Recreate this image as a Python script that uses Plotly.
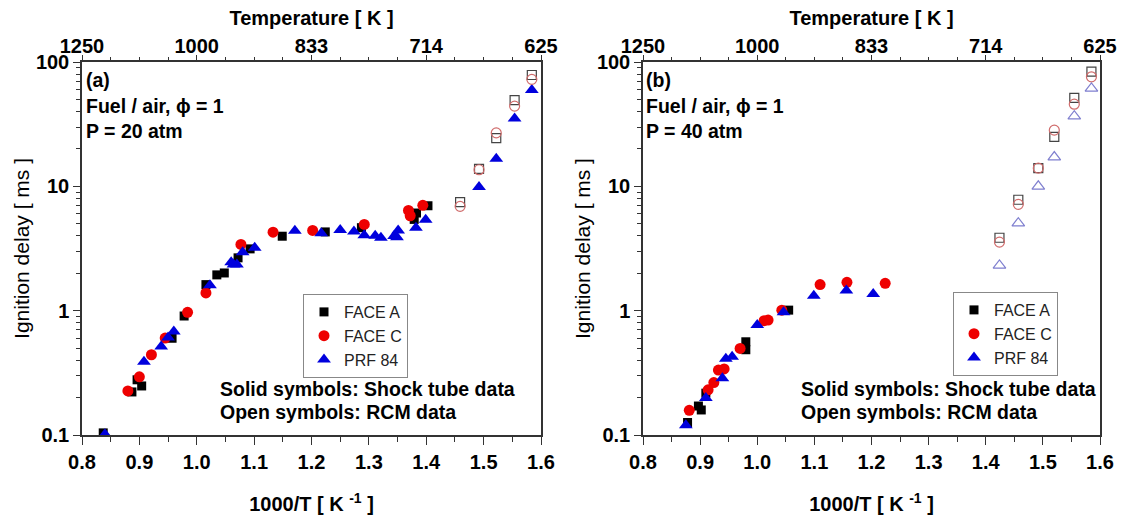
import plotly.graph_objects as go

# ---------------- data ----------------
# Panel (a): P = 20 atm, shock tube (solid)
a_faceA_x = [0.837, 0.887, 0.896, 0.904, 0.957, 0.978, 1.016, 1.035, 1.048, 1.072, 1.093, 1.149, 1.224, 1.287, 1.379, 1.383, 1.403]
a_faceA_y = [0.104, 0.222, 0.278, 0.248, 0.60, 0.906, 1.62, 1.94, 2.01, 2.66, 3.14, 3.97, 4.3, 4.65, 5.42, 6.1, 6.98]
a_faceC_x = [0.880, 0.900, 0.921, 0.945, 0.984, 1.016, 1.077, 1.133, 1.202, 1.292, 1.369, 1.372, 1.394]
a_faceC_y = [0.226, 0.294, 0.442, 0.602, 0.969, 1.39, 3.41, 4.28, 4.42, 4.94, 6.4, 5.8, 7.03]
a_prf_x = [0.840, 0.908, 0.938, 0.950, 0.960, 1.023, 1.060, 1.064, 1.070, 1.080, 1.101, 1.171, 1.217, 1.250,
           1.274, 1.292, 1.311, 1.321, 1.344, 1.349, 1.351, 1.382, 1.399, 1.492, 1.522, 1.554, 1.584]
a_prf_y = [0.1014, 0.388, 0.515, 0.607, 0.681, 1.6, 2.45, 2.35, 2.35, 2.95, 3.2, 4.39, 4.2, 4.45,
           4.33, 4.05, 4.0, 3.86, 3.99, 3.9, 4.42, 4.64, 5.39, 9.9, 16.7, 35.2, 59.5]
# Panel (a): RCM (open)
a_rcm_x = [1.459, 1.492, 1.522, 1.554, 1.584]
a_rcm_faceA_y = [7.47, 13.8, 24.4, 49.4, 78.6]
a_rcm_faceC_y = [6.9, 13.6, 26.9, 44.2, 72.5]

# Panel (b): P = 40 atm, shock tube (solid)
b_faceA_x = [0.878, 0.897, 0.902, 0.910, 0.980, 0.980, 1.055]
b_faceA_y = [0.126, 0.171, 0.159, 0.217, 0.562, 0.485, 1.01]
b_faceC_x = [0.881, 0.914, 0.924, 0.932, 0.942, 0.970, 1.012, 1.019, 1.043, 1.110, 1.157, 1.224]
b_faceC_y = [0.158, 0.231, 0.264, 0.333, 0.34, 0.497, 0.83, 0.84, 1.01, 1.62, 1.69, 1.66]
b_prf_x = [0.875, 0.910, 0.939, 0.945, 0.956, 1.000, 1.046, 1.099, 1.156, 1.203]
b_prf_y = [0.120, 0.198, 0.286, 0.41, 0.426, 0.767, 0.969, 1.32, 1.45, 1.36]
# Panel (b): RCM (open)
b_rcm_x = [1.424, 1.457, 1.492, 1.520, 1.555, 1.585]
b_rcm_faceA_y = [3.86, 7.8, 14.0, 25.0, 51.5, 83.6]
b_rcm_faceC_y = [3.56, 7.16, 14.0, 28.3, 45.8, 76.0]
b_rcm_prf_y = [2.31, 5.06, 10.0, 17.2, 36.7, 61.3]

# axis ticks
x_ticks = [0.8, 0.9, 1.0, 1.1, 1.2, 1.3, 1.4, 1.5, 1.6]
x_minor = [0.85, 0.95, 1.05, 1.15, 1.25, 1.35, 1.45, 1.55]
top_tickvals = [0.8, 1.0, 1.2, 1.4, 1.6]
top_ticktext = ["1250", "1000", "833", "714", "625"]
top_minor = [0.85, 0.9, 0.95, 1.05, 1.1, 1.15, 1.25, 1.3, 1.35, 1.45, 1.5, 1.55]
y_tickvals = [0.1, 1, 10, 100]
y_ticktext = ["0.1", "1", "10", "100"]
y_minor = [m * d for d in (0.1, 1, 10) for m in range(2, 10)]
series_names = ["FACE A", "FACE C", "PRF 84"]

# ---------------- layout helpers ----------------
W, H = 1125, 515
def px(x):
    return x / W
def py(y):
    return 1 - y / H

FONT = "Arial, Liberation Sans, sans-serif"
BLACK = "#000000"
RED = "#ee0000"
BLUE = "#0000dd"
OPEN_SQ = "#444444"
OPEN_CI = "#d06c6c"
OPEN_TR = "#7f7fcf"
AXC = "#333333"

fig = go.Figure()

def solid(x, y, name, sym, color, size, xa, ya, legend):
    fig.add_trace(go.Scatter(x=x, y=y, mode="markers", name=name, xaxis=xa, yaxis=ya,
                             legend=legend, showlegend=True,
                             marker=dict(symbol=sym, color=color, size=size, line=dict(width=0))))

def hollow(x, y, sym, color, size, xa, ya):
    fig.add_trace(go.Scatter(x=x, y=y, mode="markers", xaxis=xa, yaxis=ya, showlegend=False,
                             marker=dict(symbol=sym + "-open", color=color, size=size,
                                         line=dict(width=1.2, color=color))))

# panel a (open RCM symbols drawn on the top temperature axis, same range)
hollow(a_rcm_x, a_rcm_faceA_y, "square", OPEN_SQ, 9, "x3", "y")
hollow(a_rcm_x, a_rcm_faceC_y, "circle", OPEN_CI, 10, "x3", "y")
solid(a_faceA_x, a_faceA_y, series_names[0], "square", BLACK, 9, "x", "y", "legend")
solid(a_faceC_x, a_faceC_y, series_names[1], "circle", RED, 11, "x", "y", "legend")
solid(a_prf_x, a_prf_y, series_names[2], "triangle-up", BLUE, 12, "x", "y", "legend")

# panel b
hollow(b_rcm_x, b_rcm_faceA_y, "square", OPEN_SQ, 9, "x4", "y2")
hollow(b_rcm_x, b_rcm_faceC_y, "circle", OPEN_CI, 10, "x4", "y2")
hollow(b_rcm_x, b_rcm_prf_y, "triangle-up", OPEN_TR, 11, "x4", "y2")
solid(b_faceA_x, b_faceA_y, series_names[0], "square", BLACK, 9, "x2", "y2", "legend2")
solid(b_faceC_x, b_faceC_y, series_names[1], "circle", RED, 11, "x2", "y2", "legend2")
solid(b_prf_x, b_prf_y, series_names[2], "triangle-up", BLUE, 12, "x2", "y2", "legend2")

dom_a = [px(82), px(541)]
dom_b = [px(643), px(1100)]
dom_y = [py(435), py(62)]

tickfont = dict(family=FONT, size=20, color="black", weight="bold")
titlefont = dict(family=FONT, size=20, color="black", weight="bold")

def xbottom(domain, anchor):
    return dict(domain=domain, anchor=anchor, range=[0.8, 1.6], tickmode="array",
                tickvals=x_ticks, ticktext=[f"{v:.1f}" for v in x_ticks],
                ticks="outside", ticklen=8, tickwidth=1.2, tickcolor=AXC,
                minor=dict(tickvals=x_minor, ticks="outside", ticklen=5, tickcolor=AXC),
                showline=True, linecolor=AXC, linewidth=1.5, mirror=False,
                showgrid=False, zeroline=False, tickfont=tickfont, automargin=False,
                title=dict(text="1000/T [ K <sup>-1</sup> ]", standoff=26, font=titlefont))

def xtop(domain, over, anchor):
    return dict(domain=domain, overlaying=over, anchor=anchor, side="top", range=[0.8, 1.6],
                tickmode="array", tickvals=top_tickvals, ticktext=top_ticktext,
                ticks="outside", ticklen=5, tickwidth=1.2, tickcolor=AXC, ticklabelstandoff=-6,
                minor=dict(tickvals=top_minor, ticks="outside", ticklen=3, tickcolor=AXC),
                showline=True, linecolor=AXC, linewidth=1.5,
                showgrid=False, zeroline=False, tickfont=tickfont, automargin=False,
                title=dict(text="Temperature [ K ]", standoff=4, font=titlefont))

def yax(domain, anchor):
    return dict(domain=domain, anchor=anchor, type="log", range=[-1, 2],
                tickmode="array", tickvals=y_tickvals, ticktext=y_ticktext,
                ticks="outside", ticklen=7, tickwidth=1.2, tickcolor=AXC,
                minor=dict(tickvals=y_minor, ticks="outside", ticklen=4, tickcolor=AXC),
                showline=True, linecolor=AXC, linewidth=1.5, mirror=True,
                showgrid=False, zeroline=False, tickfont=tickfont, automargin=False,
                title=dict(text="Ignition delay [ ms ]", standoff=1,
                           font=dict(family=FONT, size=21, color="black")))

legend_common = dict(bgcolor="white", bordercolor="#888", borderwidth=1,
                     font=dict(family=FONT, size=16, color="#222"),
                     xanchor="left", yanchor="top", tracegroupgap=0, itemsizing="trace")

fig.update_layout(
    width=W, height=H, margin=dict(l=0, r=0, t=0, b=0, pad=0, autoexpand=False),
    paper_bgcolor="white", plot_bgcolor="white",
    font=dict(family=FONT, color="black"),
    xaxis=xbottom(dom_a, "y"),
    xaxis2=xbottom(dom_b, "y2"),
    xaxis3=xtop(dom_a, "x", "y"),
    xaxis4=xtop(dom_b, "x2", "y2"),
    yaxis=yax(dom_y, "x"),
    yaxis2=yax(dom_y, "x2"),
    legend=dict(x=px(303), y=py(294), **legend_common),
    legend2=dict(x=px(953), y=py(292), **legend_common),
)

notefont = dict(family=FONT, size=19.5, color="black", weight="bold")
def note(text, x, y):
    fig.add_annotation(text=text, x=px(x), y=py(y), xref="paper", yref="paper",
                       xanchor="left", yanchor="middle", showarrow=False, font=notefont)

for (x0, lab, p) in [(84, "(a)", "P = 20 atm"), (644, "(b)", "P = 40 atm")]:
    note(lab, x0, 80)
    note("Fuel / air, \u03d5 = 1", x0, 106)
    note(p, x0, 131)

note("Solid symbols: Shock tube data", 218, 389)
note("Open symbols: RCM data", 218, 412)
note("Solid symbols: Shock tube data", 799, 389)
note("Open symbols: RCM data", 799, 412)

fig.write_html("out.html")
